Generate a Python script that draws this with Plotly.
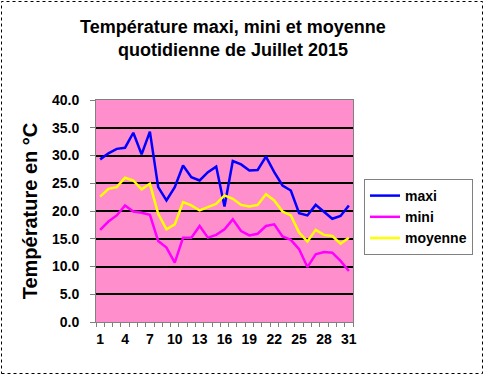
import plotly.graph_objects as go

days = list(range(1, 32))
maxi = [29.3, 30.4, 31.2, 31.4, 34.1, 30.2, 34.3, 24.3, 21.9, 24.3, 28.2, 26.1, 25.5, 27.0, 28.0, 20.8,
        29.0, 28.4, 27.3, 27.4, 29.8, 27.0, 24.6, 23.7, 19.6, 19.2, 21.1, 19.8, 18.6, 19.1, 21.0]
mini = [16.6, 18.1, 19.2, 21.0, 19.9, 19.7, 19.3, 14.6, 13.4, 10.7, 15.2, 15.2, 17.3, 15.2, 15.7, 16.7,
        18.5, 16.4, 15.6, 15.9, 17.3, 17.6, 15.4, 14.8, 13.1, 9.9, 12.2, 12.6, 12.5, 11.0, 9.2]
moyenne = [22.6, 24.0, 24.3, 26.0, 25.5, 23.9, 24.9, 19.5, 16.7, 17.6, 21.6, 21.0, 20.1, 20.7, 21.3, 22.8,
           22.2, 21.1, 20.8, 21.1, 23.0, 21.9, 19.9, 19.2, 16.1, 14.5, 16.6, 15.7, 15.5, 14.1, 15.2]
x_ticks = [1, 4, 7, 10, 13, 16, 19, 22, 25, 28, 31]
y_ticks = [0, 5, 10, 15, 20, 25, 30, 35, 40]

W, H = 484, 375
L, R, T, B = 96, 131, 100, 53
pw, ph = W - L - R, H - T - B

fig = go.Figure()
for name, vals, col, grp in [("maxi", maxi, "#0000FF", "a"),
                             ("mini", mini, "#FF00FF", "b"),
                             ("moyenne", moyenne, "#FFFF00", "c")]:
    fig.add_trace(go.Scatter(x=days, y=vals, mode="lines", name="<b>%s</b>" % name, legendgroup=grp,
                             line=dict(color=col, width=2.5)))

font = "Arial, Liberation Sans, sans-serif"
fig.update_layout(
    width=W, height=H,
    margin=dict(l=L, r=R, t=T, b=B, autoexpand=False),
    paper_bgcolor="white",
    plot_bgcolor="#FF8FCC",
    font=dict(family=font, color="black", size=14),
    title=dict(text="<b>Température maxi, mini et moyenne<br>quotidienne de Juillet 2015</b>",
               x=233 / W, xanchor="center", y=1 - 33 / H, yanchor="middle",
               font=dict(size=18, family=font)),
    showlegend=True,
    legend=dict(x=(364 - L) / pw, y=(H - B - 179) / ph, xanchor="left", yanchor="top",
                bordercolor="#808080", borderwidth=1, bgcolor="white",
                font=dict(size=14, family=font), tracegroupgap=0,
                itemwidth=30),
    xaxis=dict(range=[0.5, 31.5], tickmode="array", tickvals=x_ticks,
               ticktext=["<b>%d</b>" % v for v in x_ticks], ticks="", showgrid=False,
               showline=True, linecolor="#808080", linewidth=1, mirror=True, zeroline=False,
               tickfont=dict(size=14), ticklabelstandoff=4, automargin=False,
               minor=dict(tickmode="linear", tick0=0.5, dtick=1, ticks="outside",
                          ticklen=4, tickcolor="#808080", showgrid=False)),
    yaxis=dict(range=[0, 40], tickmode="array", tickvals=y_ticks,
               ticktext=["<b>%.1f</b>" % v for v in y_ticks], ticks="outside", ticklen=5,
               tickcolor="#808080", showgrid=True, gridcolor="black", gridwidth=2,
               showline=True, linecolor="#808080", linewidth=1, mirror=True, zeroline=False,
               tickfont=dict(size=14), automargin=False, ticklabelstandoff=8,
               title=dict(text="<b>Température en °C</b>", font=dict(size=20), standoff=8)),
)
fig.add_shape(type="rect", xref="paper", yref="paper",
              x0=(1.5 - L) / pw, x1=(482.5 - L) / pw,
              y0=(H - B - 373.5) / ph, y1=(H - B - 1.5) / ph,
              line=dict(color="black", width=1, dash="dot"), fillcolor="rgba(0,0,0,0)", layer="above")
fig.write_html("out.html", config={"displayModeBar": False},
               post_script="document.body.style.margin='0';document.body.style.overflow='hidden';")
